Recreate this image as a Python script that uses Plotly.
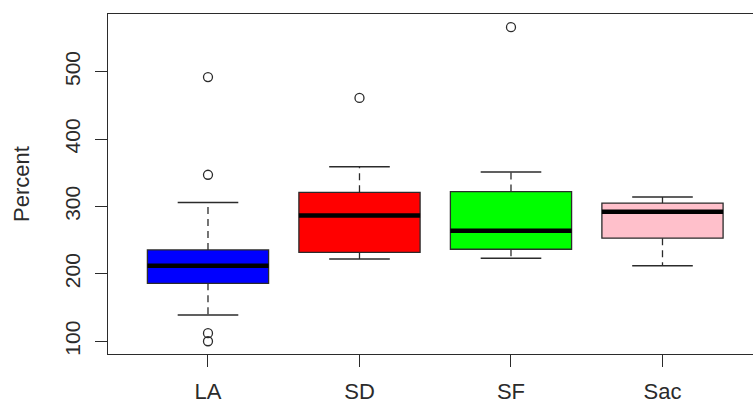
import plotly.graph_objects as go

# ---- data ----
categories = ["LA", "SD", "SF", "Sac"]
positions = [1, 2, 3, 4]
colors = ["#0000FF", "#FF0000", "#00FF00", "#FFC0CB"]
lower_whisker = [139, 222, 223, 212]
q1 = [186, 232, 236.5, 253]
median = [212, 286.5, 264, 292]
q3 = [235.5, 321, 322, 305]
upper_whisker = [306, 359, 351, 314]
outliers = [[492, 347, 112, 100], [461], [566], []]
y_ticks = [100, 200, 300, 400, 500]

BOX_W = 0.8
STAPLE_W = 0.4
INK = "#2b2b2b"
FONT = "Liberation Sans, Arial, sans-serif"

fig = go.Figure()

for i, cat in enumerate(categories):
    p = positions[i]
    # box body (whiskers collapsed; drawn separately in R style)
    fig.add_trace(go.Box(
        x=[p], q1=[q1[i]], median=[median[i]], q3=[q3[i]],
        lowerfence=[q1[i]], upperfence=[q3[i]],
        width=BOX_W, whiskerwidth=0,
        fillcolor=colors[i], line=dict(color=INK, width=1.3),
        hoverinfo="skip", showlegend=False, boxpoints=False,
    ))
    # dashed whiskers
    fig.add_trace(go.Scatter(
        x=[p, p, None, p, p],
        y=[q3[i], upper_whisker[i], None, q1[i], lower_whisker[i]],
        mode="lines", line=dict(color=INK, width=1.3, dash="7px,5px"),
        showlegend=False, hoverinfo="skip",
    ))
    # staples
    fig.add_trace(go.Scatter(
        x=[p - STAPLE_W / 2, p + STAPLE_W / 2, None, p - STAPLE_W / 2, p + STAPLE_W / 2],
        y=[upper_whisker[i], upper_whisker[i], None, lower_whisker[i], lower_whisker[i]],
        mode="lines", line=dict(color=INK, width=1.5),
        showlegend=False, hoverinfo="skip",
    ))
    # thick median
    fig.add_trace(go.Scatter(
        x=[p - BOX_W / 2, p + BOX_W / 2], y=[median[i], median[i]],
        mode="lines", line=dict(color="#000000", width=4.5),
        showlegend=False, hoverinfo="skip",
    ))
    # outliers
    if outliers[i]:
        fig.add_trace(go.Scatter(
            x=[p] * len(outliers[i]), y=outliers[i], mode="markers",
            marker=dict(symbol="circle-open", size=9, color=INK, line=dict(width=1.3)),
            showlegend=False, hoverinfo="skip",
        ))

fig.update_layout(
    width=753, height=404, autosize=False,
    margin=dict(l=108, r=0, t=14, b=48),
    paper_bgcolor="white", plot_bgcolor="white",
    font=dict(family=FONT, size=22, color=INK),
    xaxis=dict(
        range=[0.34, 4.5974], tickmode="array", tickvals=positions, ticktext=categories,
        showgrid=False, zeroline=False, showline=True, mirror=True,
        linecolor=INK, linewidth=1.3, ticks="outside", ticklen=12,
        tickcolor=INK, tickwidth=1.3, ticklabelstandoff=5,
        tickfont=dict(size=22),
    ),
    yaxis=dict(
        range=[81.1, 585.5], tickmode="array", tickvals=y_ticks,
        ticktext=[str(v) for v in y_ticks], tickangle=-90,
        showgrid=False, zeroline=False, showline=True, mirror=False,
        linecolor=INK, linewidth=1.3, ticks="outside", ticklen=12,
        tickcolor=INK, tickwidth=1.3, ticklabelstandoff=6,
        tickfont=dict(size=21),
    ),
    annotations=[dict(
        text="Percent", xref="paper", yref="paper", x=(21 - 108) / 645, y=0.5,
        xanchor="center", yanchor="middle", textangle=-90, showarrow=False,
        font=dict(family=FONT, size=22, color=INK),
    )],
)

fig.write_html("out.html", config={"displayModeBar": False},
               post_script="document.body.style.margin='0px';")
